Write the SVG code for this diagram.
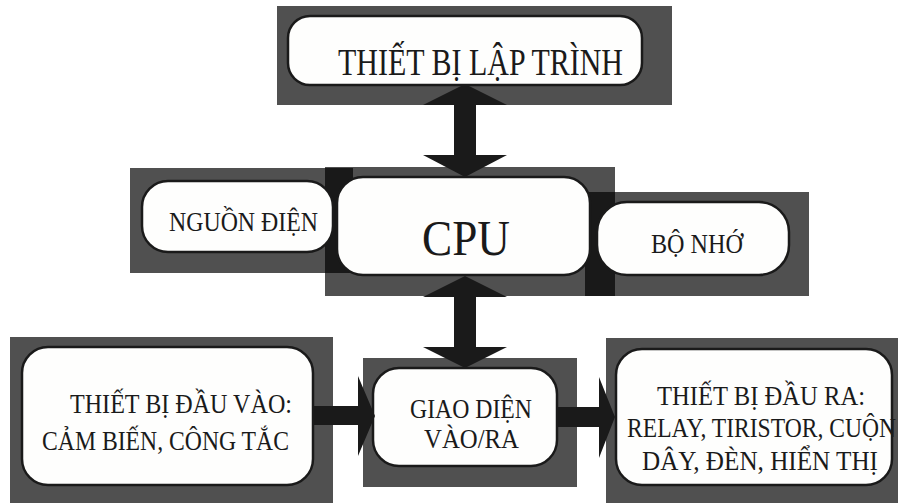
<svg xmlns="http://www.w3.org/2000/svg" width="901" height="503" viewBox="0 0 901 503">
<style>
.sh{fill:#000;fill-opacity:0.686}
.box{fill:#fefefd;stroke:#1a1a1a;stroke-width:2.5}
.t{font-family:"Liberation Serif","Times New Roman",serif;fill:#1a1a1a;font-size:27px}
.arr{fill:#1a1a1a}
</style>
<rect width="901" height="503" fill="#fff"/>
<g id="shadows">
<rect class="sh" x="277" y="6" width="395" height="99"/>
<rect class="sh" x="130" y="168" width="223" height="105"/>
<rect class="sh" x="325" y="167" width="290" height="129"/>
<rect class="sh" x="585" y="192" width="224" height="104"/>
<rect class="sh" x="10" y="337" width="323" height="166"/>
<rect class="sh" x="363" y="358" width="214" height="129"/>
<rect class="sh" x="606" y="338" width="292" height="165"/>
</g>
<g id="node-programmer">
<rect class="box" x="288" y="16" width="354" height="69" rx="22"/>
<text class="t" x="338" y="75" style="font-size:37px" textLength="285" lengthAdjust="spacingAndGlyphs">THIẾT BỊ LẬP TRÌNH</text>
</g>
<g id="node-power">
<rect class="box" x="142" y="181" width="191" height="71" rx="26"/>
<text class="t" x="169" y="231" textLength="149" lengthAdjust="spacingAndGlyphs">NGUỒN ĐIỆN</text>
</g>
<g id="node-cpu">
<rect class="box" x="337" y="177" width="253" height="98" rx="26"/>
<text class="t" x="422" y="255" style="font-size:50px" textLength="88" lengthAdjust="spacingAndGlyphs">CPU</text>
</g>
<g id="node-memory">
<rect class="box" x="597" y="202" width="192" height="73" rx="30"/>
<text class="t" x="651" y="253" textLength="92" lengthAdjust="spacingAndGlyphs">BỘ NHỚ</text>
</g>
<g id="node-input">
<rect class="box" x="22" y="347" width="291" height="138" rx="26"/>
<text class="t" x="70" y="413" textLength="222" lengthAdjust="spacingAndGlyphs">THIẾT BỊ ĐẦU VÀO:</text>
<text class="t" x="42" y="450" textLength="247" lengthAdjust="spacingAndGlyphs">CẢM BIẾN, CÔNG TẮC</text>
</g>
<g id="node-io">
<rect class="box" x="373" y="368" width="184" height="98" rx="26"/>
<text class="t" x="410" y="418" textLength="122" lengthAdjust="spacingAndGlyphs">GIAO DIỆN</text>
<text class="t" x="424" y="448" textLength="95" lengthAdjust="spacingAndGlyphs">VÀO/RA</text>
</g>
<g id="node-output">
<rect class="box" x="616" y="349" width="276" height="136" rx="26"/>
<text class="t" x="657" y="405" textLength="208" lengthAdjust="spacingAndGlyphs">THIẾT BỊ ĐẦU RA:</text>
<text class="t" x="627" y="437" textLength="269" lengthAdjust="spacingAndGlyphs">RELAY, TIRISTOR, CUỘN</text>
<text class="t" x="642" y="470" textLength="236" lengthAdjust="spacingAndGlyphs">DÂY, ĐÈN, HIỂN THỊ</text>
</g>
<g id="connectors">
<polygon class="arr" points="465,84 507,105 476,105 476,155 507,155 465,177 423,155 454,155 454,105 423,105"/>
<polygon class="arr" points="465,276 507,297 476,297 476,347 507,347 465,368 423,347 454,347 454,297 423,297"/>
<polygon class="arr" points="313,406 358,406 358,376 375,416 358,456 358,425 313,425"/>
<polygon class="arr" points="557,407 599,407 599,377 615,417 599,458 599,427 557,427"/>
</g>
</svg>
